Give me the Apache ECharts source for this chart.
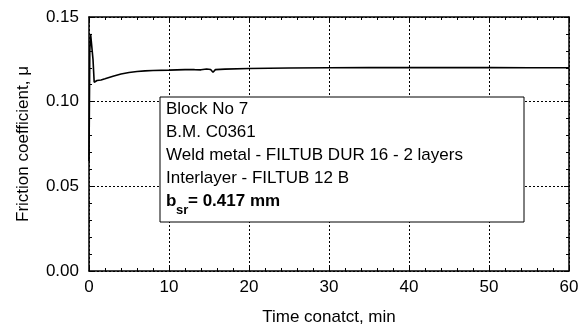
<!DOCTYPE html>
<html>
<head>
<meta charset="utf-8">
<script src="https://cdn.jsdelivr.net/npm/echarts@6/dist/echarts.min.js"></script>
<style>
  html, body { margin: 0; padding: 0; background: #fff; }
  #chart { width: 587px; height: 327px; }
</style>
</head>
<body>
<div id="chart"></div>
<script>
// Friction coefficient over contact time (minutes)
const timeMin = [0, 0.1, 0.2, 0.4, 0.5, 0.65, 0.8, 1.0, 1.5, 2, 3, 4, 5, 6, 7, 8, 10, 12, 12.8, 13.0, 13.2, 14, 14.7, 15.2, 15.5, 15.8, 17, 20, 25, 30, 35, 40, 45, 50, 55, 60];
const mu      = [0.065, 0.130, 0.140, 0.140, 0.125, 0.1115, 0.1118, 0.1125, 0.1128, 0.1135, 0.1150, 0.1163, 0.1172, 0.1178, 0.1182, 0.1184, 0.1186, 0.1189, 0.1190, 0.1195, 0.1189, 0.1188, 0.1193, 0.1190, 0.1174, 0.1189, 0.1192, 0.1196, 0.1199, 0.1200, 0.1201, 0.1202, 0.1201, 0.1201, 0.1200, 0.1200];

// Axis ranges and tick steps
const xRange = [0, 60], xStep = 10;
const yRange = [0, 0.15], yStep = 0.05;

// Annotation box lines
const infoLines = ['Block No 7', 'B.M. C0361', 'Weld metal - FILTUB DUR 16 - 2 layers', 'Interlayer - FILTUB 12 B'];
const widthLabel = { main: 'b', sub: 'sr', rest: '= 0.417 mm' };

const FONT = 'Arial, "Liberation Sans", sans-serif';
const chart = echarts.init(document.getElementById('chart'));

const tickInside = { show: true, inside: true, length: 5, lineStyle: { color: '#000', width: 1 } };
const minorInside = { show: true, splitNumber: 5, length: 3, lineStyle: { color: '#000', width: 1 } };
const frameLine = { show: true, onZero: false, lineStyle: { color: '#000', width: 1.5 } };
const dotted = { show: true, lineStyle: { color: '#000', width: 1, type: [2, 2] } };

const seriesData = timeMin.map((t, i) => [t, mu[i]]);

// Text box geometry (top-aligned text rows)
const boxX = 160, boxY = 97, boxW = 364, boxH = 125;
const textX = 166, lineStep = 23, firstTop = 101;
const graphics = [{
  type: 'rect', z: 10,
  shape: { x: boxX, y: boxY, width: boxW, height: boxH },
  style: { fill: '#fff', stroke: '#000', lineWidth: 1 }
}];
infoLines.forEach((s, i) => {
  graphics.push({
    type: 'text', z: 11, x: textX, y: firstTop + i * lineStep,
    style: { text: s, font: '17px ' + FONT, fill: '#000', verticalAlign: 'top' }
  });
});
const lastTop = firstTop + infoLines.length * lineStep;
graphics.push(
  { type: 'text', z: 11, x: textX, y: lastTop,
    style: { text: widthLabel.main, font: 'bold 17px ' + FONT, fill: '#000', verticalAlign: 'top' } },
  { type: 'text', z: 11, x: textX + 10, y: lastTop + 11,
    style: { text: widthLabel.sub, font: 'bold 13px ' + FONT, fill: '#000', verticalAlign: 'top' } },
  { type: 'text', z: 11, x: textX + 22, y: lastTop,
    style: { text: widthLabel.rest, font: 'bold 17px ' + FONT, fill: '#000', verticalAlign: 'top' } }
);

chart.setOption({
  animation: false,
  backgroundColor: '#fff',
  grid: { left: 89, right: 18, top: 17, bottom: 56, containLabel: false, outerBoundsMode: 'none' },
  xAxis: [{
    type: 'value', min: xRange[0], max: xRange[1], interval: xStep,
    axisLine: frameLine, axisTick: tickInside, minorTick: minorInside,
    splitLine: dotted,
    axisLabel: { color: '#000', fontSize: 17, fontFamily: FONT, margin: 8 },
    name: 'Time conatct, min', nameLocation: 'middle', nameGap: 38,
    nameTextStyle: { color: '#000', fontSize: 17, fontFamily: FONT }
  }, {
    type: 'value', position: 'top', min: xRange[0], max: xRange[1], interval: xStep,
    axisLine: frameLine, axisTick: tickInside, minorTick: minorInside,
    splitLine: { show: false }, axisLabel: { show: false }
  }],
  yAxis: [{
    type: 'value', min: yRange[0], max: yRange[1], interval: yStep,
    axisLine: frameLine, axisTick: tickInside, minorTick: minorInside,
    splitLine: dotted,
    axisLabel: { color: '#000', fontSize: 17, fontFamily: FONT, margin: 10,
                 formatter: v => v.toFixed(2) },
    name: 'Friction coefficient, \u03bc', nameLocation: 'middle', nameGap: 57,
    nameTextStyle: { color: '#000', fontSize: 17, fontFamily: FONT }
  }, {
    type: 'value', position: 'right', min: yRange[0], max: yRange[1], interval: yStep,
    axisLine: frameLine, axisTick: tickInside, minorTick: minorInside,
    splitLine: { show: false }, axisLabel: { show: false }
  }],
  series: [{
    type: 'line', xAxisIndex: 0, yAxisIndex: 0,
    data: seriesData, showSymbol: false, smooth: false,
    lineStyle: { color: '#000', width: 1.6 }
  }],
  graphic: graphics
});
</script>
</body>
</html>
